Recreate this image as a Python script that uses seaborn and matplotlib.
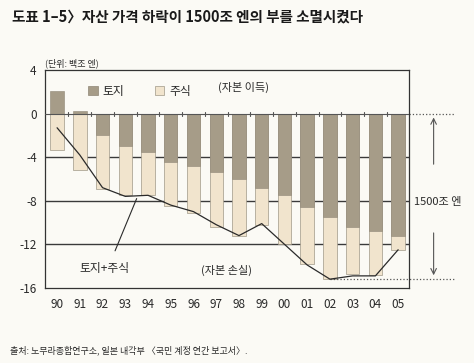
import numpy as np
import pandas as pd
import matplotlib
matplotlib.use("Agg")
import matplotlib.pyplot as plt
import seaborn as sns
from matplotlib.patches import Patch

# ---- data (백조 엔) ----
years = ['90', '91', '92', '93', '94', '95', '96', '97',
         '98', '99', '00', '01', '02', '03', '04', '05']
land = [2.05, 0.2, -1.95, -2.95, -3.55, -4.45, -4.8, -5.35,
        -6.0, -6.85, -7.5, -8.55, -9.5, -10.4, -10.8, -11.2]
stock = [-3.3, -5.2, -4.95, -4.55, -3.95, -4.05, -4.3, -5.05,
         -5.2, -3.35, -4.5, -5.25, -5.7, -4.3, -4.0, -1.3]
total_line = [-1.3, -3.8, -6.8, -7.6, -7.5, -8.4, -9.0, -10.2,
              -11.2, -10.1, -12.0, -13.9, -15.2, -14.9, -14.9, -12.5]
y_ticks = [4, 0, -4, -8, -12, -16]

df = pd.DataFrame({'year': years, 'land': land, 'stock': stock, 'line': total_line})
# stock segment hangs below the land segment when land is negative
df['stock_end'] = np.where(df['land'] < 0, df['land'] + df['stock'], df['stock'])

land_c = '#a69c88'
stock_c = '#f1e4cd'
paper = '#fbfaf5'
ink = '#2a2a2a'

sns.set_style("white")
plt.rcParams['font.family'] = ['Noto Sans CJK KR', 'DejaVu Sans']

fig = plt.figure(figsize=(4.74, 3.63), dpi=100, facecolor=paper)
ax = fig.add_axes([0.095, 0.207, 0.768, 0.600])
ax.set_facecolor(paper)

# grid lines behind bars
for v in [-4, -8, -12]:
    ax.axhline(v, color='#3a3a3a', lw=1.0, zorder=0)

# light (stock) bar first at full extent, dark (land) on top
sns.barplot(data=df, x='year', y='stock_end', color=stock_c, width=0.59,
            edgecolor='#a09888', linewidth=0.5, saturation=1, ax=ax, zorder=2)
sns.barplot(data=df, x='year', y='land', color=land_c, width=0.59,
            edgecolor='#8f8676', linewidth=0.4, saturation=1, ax=ax, zorder=3)

# zero line with small crosses between bars
ax.axhline(0, color='#555555', lw=0.8, zorder=4)
for i in range(len(years) - 1):
    ax.plot([i + 0.5, i + 0.5], [-0.18, 0.18], color='#555555', lw=0.8, zorder=4)

# 토지+주식 line
sns.lineplot(x=np.arange(len(years)), y=df['line'], color=ink, lw=0.9, ax=ax, zorder=5)

ax.set_xlim(-0.53, 15.48)
ax.set_ylim(-16, 4)
ax.set_yticks(y_ticks)
ax.set_yticklabels([str(t) for t in y_ticks])
ax.set_xlabel('')
ax.set_ylabel('')
ax.tick_params(axis='y', length=3, width=0.8, color=ink, labelsize=8.5, pad=3, labelcolor=ink)
ax.tick_params(axis='x', length=0, labelsize=8.5, pad=7, labelcolor=ink)
for s in ax.spines.values():
    s.set_color('#333333')
    s.set_linewidth(0.9)

# legend
handles = [Patch(facecolor=land_c, edgecolor='#8f8676', lw=0.5, label='토지'),
           Patch(facecolor=stock_c, edgecolor='#a09888', lw=0.5, label='주식')]
ax.legend(handles=handles, loc='upper left', bbox_to_anchor=(0.09, 0.98), ncol=2,
          frameon=False, fontsize=8.5, handlelength=0.8, handleheight=0.8,
          columnspacing=2.6, handletextpad=0.4)

ax.text(8.2, 2.4, '(자본 이득)', fontsize=8, ha='center', va='center', color=ink)
ax.text(7.45, -14.4, '(자본 손실)', fontsize=8, ha='center', va='center', color=ink)
ax.text(2.1, -14.2, '토지+주식', fontsize=8.5, ha='center', va='center', color=ink)
ax.plot([2.55, 3.5], [-12.6, -7.8], color=ink, lw=0.8, zorder=6)

# 1500조 엔 bracket on the right
ax.plot([15.48, 17.5], [0, 0], ls=':', color='#555555', lw=0.9, clip_on=False)
ax.plot([12, 17.5], [-15.2, -15.2], ls=':', color='#555555', lw=0.9, clip_on=False)
ax.annotate('', xy=(16.56, -0.1), xytext=(16.56, -4.9),
            arrowprops=dict(arrowstyle='->', color='#555555', lw=0.8), annotation_clip=False)
ax.annotate('', xy=(16.56, -15.1), xytext=(16.56, -10.7),
            arrowprops=dict(arrowstyle='->', color='#555555', lw=0.8), annotation_clip=False)
ax.text(15.68, -8.1, '1500조 엔', fontsize=8, ha='left', va='center', color=ink, clip_on=False)

fig.text(0.025, 0.955, '도표 1–5〉자산 가격 하락이 1500조 엔의 부를 소멸시켰다',
         fontsize=10.5, fontweight='bold', ha='left', va='center', color='#1a1a1a')
fig.text(0.095, 0.826, '(단위: 백조 엔)', fontsize=6.5, ha='left', va='center', color=ink)
fig.text(0.022, 0.036, '출처: 노무라종합연구소, 일본 내각부 〈국민 계정 연간 보고서〉.',
         fontsize=6.5, ha='left', va='center', color=ink)

fig.savefig('out.png', dpi=100, facecolor=paper)
